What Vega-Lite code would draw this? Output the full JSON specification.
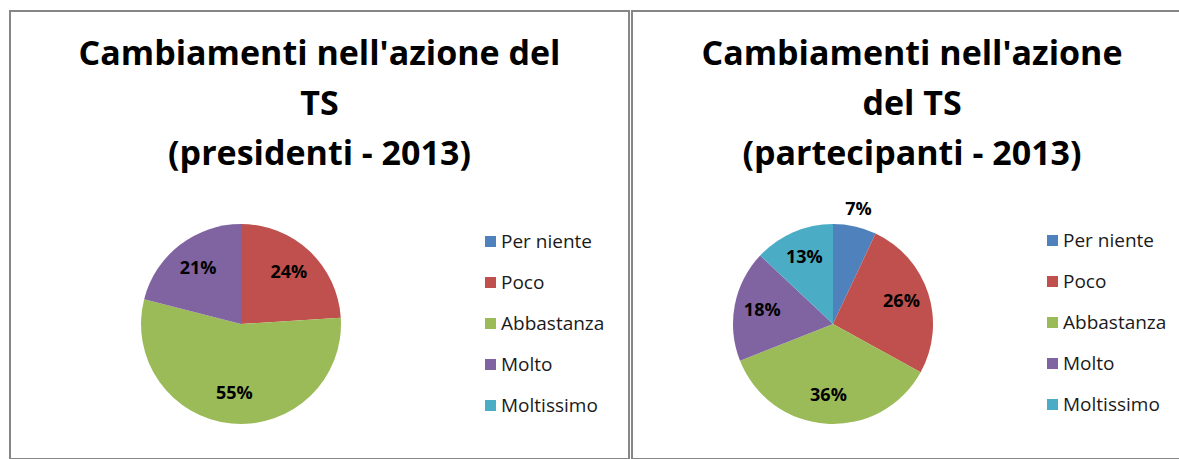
{
  "$schema": "https://vega.github.io/schema/vega-lite/v6.json",
  "padding": {"left": 9, "top": 10, "right": 0, "bottom": 0},
  "background": "white",
  "config": {
    "view": {"stroke": "#868686", "strokeWidth": 2},
    "font": "Open Sans",
    "concat": {"spacing": 1},
    "legend": {
      "orient": "none",
      "title": null,
      "symbolType": "square",
      "symbolSize": 121,
      "symbolStrokeWidth": 0,
      "labelFont": "Open Sans",
      "labelFontSize": 19,
      "labelColor": "#1a1a1a",
      "rowPadding": 21,
      "labelOffset": 1,
      "padding": 0
    },
    "title": {"font": "Open Sans", "fontSize": 34, "fontWeight": "bold", "color": "black", "anchor": "middle", "frame": "group", "lineHeight": 50}
  },
  "datasets": {
    "presidenti": [
      {"cat": "Per niente", "n": 1, "pct": 0},
      {"cat": "Poco", "n": 2, "pct": 0.24},
      {"cat": "Abbastanza", "n": 3, "pct": 0.55},
      {"cat": "Molto", "n": 4, "pct": 0.21},
      {"cat": "Moltissimo", "n": 5, "pct": 0}
    ],
    "partecipanti": [
      {"cat": "Per niente", "n": 1, "pct": 0.07},
      {"cat": "Poco", "n": 2, "pct": 0.26},
      {"cat": "Abbastanza", "n": 3, "pct": 0.36},
      {"cat": "Molto", "n": 4, "pct": 0.18},
      {"cat": "Moltissimo", "n": 5, "pct": 0.13}
    ]
  },
  "hconcat": [
    {
      "width": 619,
      "height": 448,
      "view": {"stroke": "#868686", "strokeWidth": 2},
      "data": {"name": "presidenti"},
      "title": {"text": ["Cambiamenti nell'azione del", "TS", "(presidenti - 2013)"], "offset": -161},
      "encoding": {
        "theta": {"field": "pct", "type": "quantitative", "stack": true},
        "order": {"field": "n", "type": "quantitative"}
      },
      "layer": [
        {
          "mark": {"type": "arc", "x": 231, "y": 313, "outerRadius": 100},
          "encoding": {
            "color": {
              "field": "cat", "type": "nominal",
              "scale": {"domain": ["Per niente", "Poco", "Abbastanza", "Molto", "Moltissimo"], "range": ["#4F81BD", "#C0504D", "#9BBB59", "#8064A2", "#4BACC6"]},
              "legend": {"legendX": 471, "legendY": 221}
            }
          }
        },
        {
          "transform": [{"filter": "datum.pct > 0"}],
          "mark": {"type": "text", "x": 231, "y": 313, "radius": 70, "fontSize": 18, "fontWeight": "bold", "color": "black", "font": "Open Sans"},
          "encoding": {
            "detail": {"field": "cat", "type": "nominal"},
            "text": {"field": "pct", "type": "quantitative", "format": ".0%"}
          }
        }
      ]
    },
    {
      "width": 548,
      "height": 448,
      "view": {"stroke": "#868686", "strokeWidth": 2},
      "data": {"name": "partecipanti"},
      "title": {"text": ["Cambiamenti nell'azione", "del TS", "(partecipanti - 2013)"], "offset": -161, "dx": 6},
      "encoding": {
        "theta": {"field": "pct", "type": "quantitative", "stack": true},
        "order": {"field": "n", "type": "quantitative"}
      },
      "layer": [
        {
          "mark": {"type": "arc", "x": 201, "y": 313, "outerRadius": 100},
          "encoding": {
            "color": {
              "field": "cat", "type": "nominal",
              "scale": {"domain": ["Per niente", "Poco", "Abbastanza", "Molto", "Moltissimo"], "range": ["#4F81BD", "#C0504D", "#9BBB59", "#8064A2", "#4BACC6"]},
              "legend": {"legendX": 411, "legendY": 220}
            }
          }
        },
        {
          "mark": {"type": "text", "x": 201, "y": 313, "radius": 72, "fontSize": 18, "fontWeight": "bold", "color": "black", "font": "Open Sans"},
          "encoding": {
            "detail": {"field": "cat", "type": "nominal"},
            "opacity": {"condition": {"test": "datum.pct < 0.1", "value": 0}, "value": 1},
            "text": {"field": "pct", "type": "quantitative", "format": ".0%"}
          }
        },
        {
          "mark": {"type": "text", "x": 201, "y": 313, "radius": 117, "fontSize": 18, "fontWeight": "bold", "color": "black", "font": "Open Sans"},
          "encoding": {
            "detail": {"field": "cat", "type": "nominal"},
            "opacity": {"condition": {"test": "datum.pct < 0.1", "value": 1}, "value": 0},
            "text": {"field": "pct", "type": "quantitative", "format": ".0%"}
          }
        }
      ]
    }
  ],
  "resolve": {"scale": {"color": "independent"}, "legend": {"color": "independent"}}
}
